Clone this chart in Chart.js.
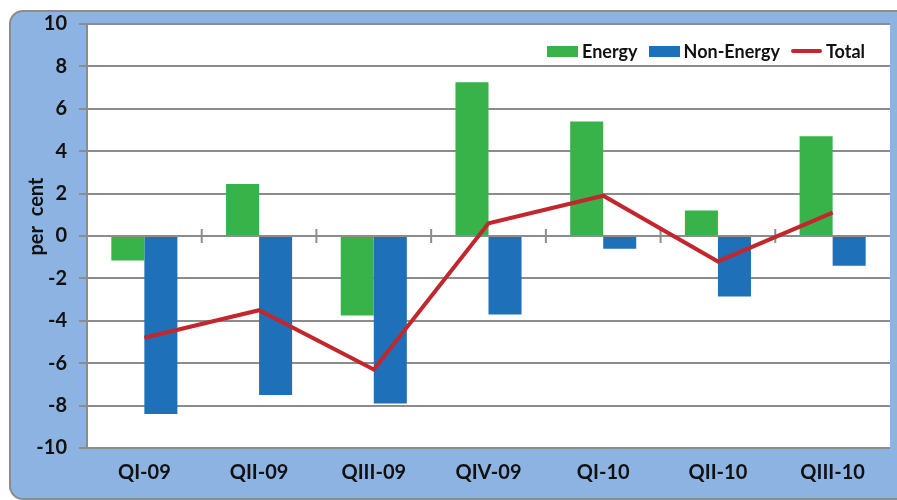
<!DOCTYPE html>
<html>
<head>
<meta charset="utf-8">
<script src="https://cdn.jsdelivr.net/npm/chart.js@4"></script>
<style>
  body { margin: 0; background: #fff; }
  #wrap { position: relative; width: 897px; height: 500px; overflow: hidden; }
  #frame {
    position: absolute; left: 9px; top: 10px; width: 910px; height: 486px;
    background: #8db3e2; border: 2px solid #8c8c8c; border-radius: 14px;
  }
  #chart { position: absolute; left: 0; top: 0; }
  #legend {
    position: absolute; right: 32px; top: 40px; display: flex; align-items: center;
    font: bold 18px Lato, "Open Sans", sans-serif; color: #111;
  }
  #legend .item { display: flex; align-items: center; margin-left: 11px; }
  #legend .sw { width: 31px; height: 11px; margin-right: 4px; }
  #legend .ln { width: 31px; height: 4px; border-radius: 2px; margin-right: 4px; }
</style>
</head>
<body>
<div id="wrap">
  <div id="frame"></div>
  <canvas id="chart" width="897" height="500"></canvas>
  <div id="legend"></div>
</div>
<script>
let quarters = ["QI-09", "QII-09", "QIII-09", "QIV-09", "QI-10", "QII-10", "QIII-10"];
let energy = [-1.15, 2.45, -3.75, 7.25, 5.4, 1.2, 4.7];
let nonEnergy = [-8.4, -7.5, -7.9, -3.7, -0.6, -2.85, -1.4];
let total = [-4.8, -3.5, -6.3, 0.6, 1.9, -1.2, 1.1];
let yTicks = [-10, -8, -6, -4, -2, 0, 2, 4, 6, 8, 10];

let green = "#37b34a";
let blue = "#1e70b8";
let red = "#c1272d";
let gridGray = "#8c8c8c";
let labelFont = { family: "Lato, 'Open Sans', sans-serif", size: 20, weight: "bold" };

// white plot background
let plotBg = {
    id: "plotBg",
    beforeDraw(chart) {
        let a = chart.chartArea, ctx = chart.ctx;
        ctx.save();
        ctx.fillStyle = "#fff";
        ctx.fillRect(a.left, a.top, a.right - a.left, a.bottom - a.top);
        ctx.restore();
    }
};

// small tick marks across the zero line between categories
let zeroTicks = {
    id: "zeroTicks",
    beforeDatasetsDraw(chart) {
        let x = chart.scales.x, y = chart.scales.y, ctx = chart.ctx;
        let y0 = y.getPixelForValue(0);
        ctx.save();
        ctx.strokeStyle = gridGray;
        ctx.lineWidth = 2;
        for (let i = 0; i < quarters.length - 1; i++) {
            let px = (x.getPixelForValue(i) + x.getPixelForValue(i + 1)) / 2;
            ctx.beginPath();
            ctx.moveTo(px, y0 - 7);
            ctx.lineTo(px, y0 + 7);
            ctx.stroke();
        }
        ctx.restore();
    }
};

let chart = new Chart("chart", {
    type: "bar",
    data: {
        labels: quarters,
        datasets: [
            {
                type: "line",
                label: "Total",
                data: total,
                borderColor: red,
                backgroundColor: red,
                borderWidth: 4,
                pointRadius: 0,
                tension: 0,
                order: 0
            },
            {
                label: "Energy",
                data: energy,
                backgroundColor: green,
                barPercentage: 1,
                categoryPercentage: 0.576,
                order: 1
            },
            {
                label: "Non-Energy",
                data: nonEnergy,
                backgroundColor: blue,
                barPercentage: 1,
                categoryPercentage: 0.576,
                order: 1
            }
        ]
    },
    options: {
        responsive: false,
        devicePixelRatio: 1,
        animation: false,
        layout: { padding: { top: 23, right: 7, left: 0, bottom: 0 } },
        plugins: {
            legend: { display: false },
            tooltip: { enabled: false }
        },
        scales: {
            x: {
                grid: { display: false },
                border: { display: false },
                ticks: { color: "#111", font: labelFont, padding: 5, maxRotation: 0 },
                afterFit(s) { s.height = 52; }
            },
            y: {
                min: -10,
                max: 10,
                afterBuildTicks(s) { s.ticks = yTicks.map(v => ({ value: v })); },
                grid: { color: gridGray, lineWidth: 2, tickLength: 8 },
                border: { color: gridGray, width: 2 },
                ticks: { color: "#111", font: labelFont, padding: 12 },
                title: {
                    display: true,
                    // leading spaces lift the rotated title a little above centre
                    text: "        per  cent",
                    color: "#111",
                    font: labelFont,
                    padding: { top: 25, bottom: 0 }
                },
                afterFit(s) { s.width = 87; }
            }
        }
    },
    plugins: [plotBg, zeroTicks]
});

// legend inside the plot, built from the datasets
let legendOrder = ["Energy", "Non-Energy", "Total"];
let legend = document.getElementById("legend");
legendOrder.forEach(name => {
    let ds = chart.data.datasets.find(d => d.label === name);
    let item = document.createElement("div");
    item.className = "item";
    let mark = document.createElement("span");
    mark.className = ds.type === "line" ? "ln" : "sw";
    mark.style.background = ds.type === "line" ? ds.borderColor : ds.backgroundColor;
    item.appendChild(mark);
    item.appendChild(document.createTextNode(name));
    legend.appendChild(item);
});
</script>
</body>
</html>
